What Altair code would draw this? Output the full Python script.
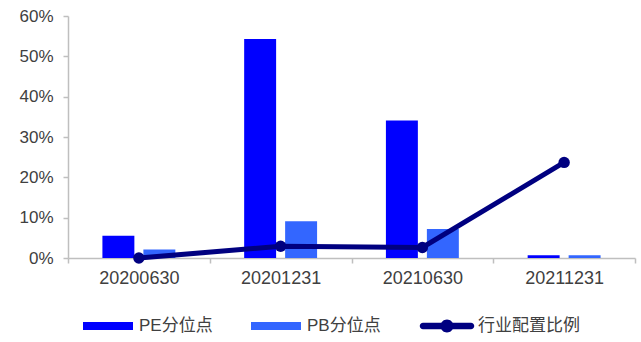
import altair as alt
import pandas as pd

# Report dates (x categories)
dates = ["20200630", "20201231", "20210630", "20211231"]

# Valuation percentiles and industry allocation share (fractions)
pe_pct = [0.055, 0.543, 0.341, 0.007]
pb_pct = [0.021, 0.091, 0.072, 0.007]
alloc = [0.000, 0.029, 0.026, 0.237]

series_names = ["PE分位点", "PB分位点", "行业配置比例"]
series_colors = ["#0000FF", "#3366FF", "#000080"]

# Legend glyphs: wide bars for the two percentile series, line + dot for allocation
bar_glyph = "M-1,-0.16H1V0.16H-1Z"
line_glyph = ("M-0.96,-0.13H0.96A0.13,0.13 0 0,1 0.96,0.13H-0.96A0.13,0.13 0 0,1 -0.96,-0.13Z"
              "M-0.26,0A0.26,0.26 0 1,1 0.26,0A0.26,0.26 0 1,1 -0.26,0Z")

bars_df = pd.DataFrame({
    "date": dates * 2,
    "series": [series_names[0]] * 4 + [series_names[1]] * 4,
    "value": pe_pct + pb_pct,
})
line_df = pd.DataFrame({"date": dates, "series": series_names[2], "value": alloc})
legend_df = pd.DataFrame({"series": series_names})

FONT = "Liberation Sans, Arial, Noto Sans CJK SC"
TEXT = "#404040"
AXIS = "#BFBFBF"

color_scale = alt.Scale(domain=series_names, range=series_colors)

legend_props = dict(
    title=None, orient="none", legendX=15, legendY=285,
    direction="horizontal", symbolSize=2500, symbolOpacity=1,
    symbolStrokeWidth=0,
    labelFontSize=17, labelFont=FONT, labelColor=TEXT,
    labelOffset=6, columnPadding=38, padding=0,
)

x_enc = alt.X(
    "date:N",
    sort=dates,
    scale=alt.Scale(paddingInner=0, paddingOuter=0),
    axis=alt.Axis(
        title=None, labelAngle=0, tickBand="extent", tickSize=5,
        labelPadding=6, labelFontSize=18, labelFont=FONT, labelColor=TEXT,
        domainColor=AXIS, tickColor=AXIS, domainWidth=1.5, tickWidth=1.5,
    ),
)
y_enc = alt.Y(
    "value:Q",
    scale=alt.Scale(domain=[0, 0.6], nice=False),
    axis=alt.Axis(
        title=None, format=".0%", values=[0, 0.1, 0.2, 0.3, 0.4, 0.5, 0.6],
        grid=False, tickSize=5, labelPadding=10, labelFontSize=17,
        labelFont=FONT, labelColor=TEXT, domainColor=AXIS, tickColor=AXIS,
        domainWidth=1.5, tickWidth=1.5,
    ),
)
color_enc = alt.Color("series:N", scale=color_scale, legend=alt.Legend(**legend_props))

bars = alt.Chart(bars_df).mark_bar().encode(
    x=x_enc,
    xOffset=alt.XOffset("series:N", sort=series_names[:2],
                        scale=alt.Scale(paddingInner=0.22, paddingOuter=0.84)),
    y=y_enc,
    color=color_enc,
)

line = alt.Chart(line_df).mark_line(strokeWidth=5).encode(
    x=x_enc,
    y=y_enc,
    color=color_enc,
)

dots = alt.Chart(line_df).mark_point(filled=True, size=130, opacity=1).encode(
    x=x_enc,
    y=y_enc,
    color=color_enc,
)

# Zero-size layer that carries the glyph for each series in the legend
legend_layer = alt.Chart(legend_df).mark_point(filled=True, size=0).encode(
    color=color_enc,
    shape=alt.Shape(
        "series:N",
        scale=alt.Scale(domain=series_names, range=[bar_glyph, bar_glyph, line_glyph]),
        legend=alt.Legend(**legend_props),
    ),
)

chart = (
    alt.layer(bars, line, dots, legend_layer)
    .properties(
        width=567, height=242,
        autosize=alt.AutoSizeParams(type="none"),
        padding={"left": 68, "top": 16, "right": 6, "bottom": 84},
        background="white",
    )
    .configure_view(stroke=None)
)

chart.save("out.html", embed_options={"renderer": "svg", "actions": False})
